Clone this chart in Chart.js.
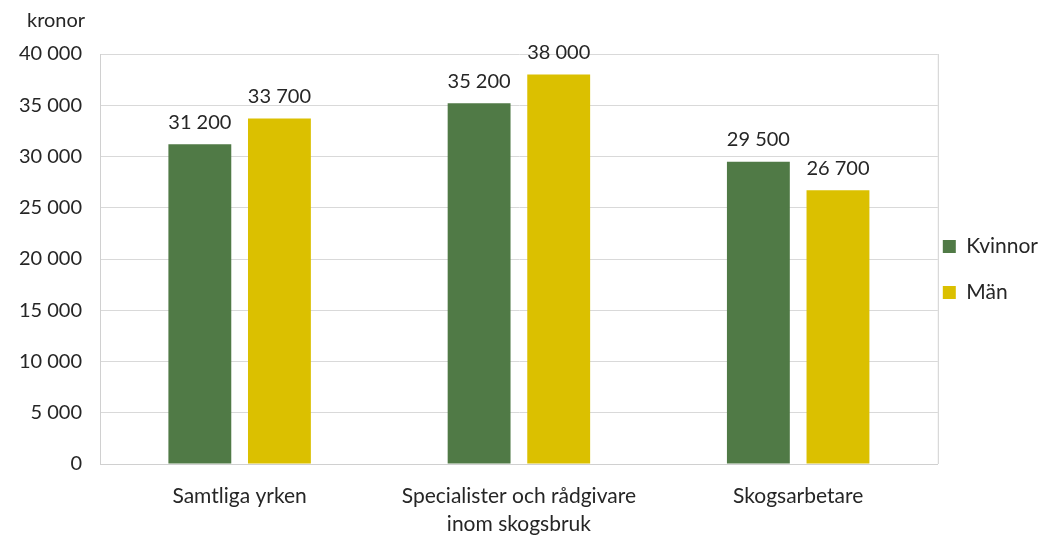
<!DOCTYPE html>
<html>
<head>
<meta charset="utf-8">
<script src="https://cdn.jsdelivr.net/npm/chart.js@4"></script>
<style>
  html, body { margin: 0; padding: 0; background: #fff; }
  #wrap { width: 1043px; height: 535px; }
</style>
</head>
<body>
<div id="wrap"><canvas id="lon"></canvas></div>
<script>
var categories = [["Samtliga yrken"], ["Specialister och rådgivare", "inom skogsbruk"], ["Skogsarbetare"]];
var kvinnor = [31200, 35200, 29500];
var man = [33700, 38000, 26700];
var unit = "kronor";

function fmt(v) {
  return String(v).replace(/\B(?=(\d{3})+(?!\d))/g, " ");
}

// value labels above each bar
var valueLabels = {
  id: "valueLabels",
  afterDatasetsDraw: function (chart) {
    var ctx = chart.ctx;
    ctx.save();
    ctx.font = "20px Lato";
    ctx.fillStyle = "#262626";
    ctx.textAlign = "center";
    ctx.textBaseline = "bottom";
    chart.data.datasets.forEach(function (ds, i) {
      chart.getDatasetMeta(i).data.forEach(function (bar, j) {
        ctx.fillText(fmt(ds.data[j]), bar.x, bar.y - 12);
      });
    });
    ctx.restore();
  }
};

// unit text above the y axis
var unitLabel = {
  id: "unitLabel",
  afterDraw: function (chart) {
    var ctx = chart.ctx;
    ctx.save();
    ctx.font = "20px Lato";
    ctx.fillStyle = "#262626";
    ctx.textAlign = "left";
    ctx.textBaseline = "middle";
    ctx.fillText(unit, 27, 21);
    ctx.restore();
  }
};

// pull the legend a bit closer to the plot area
var legendNudge = {
  id: "legendNudge",
  afterLayout: function (chart) {
    chart.legend.left -= 20;
    chart.legend.right -= 20;
  }
};

var ctx = document.getElementById("lon").getContext("2d");
var chart = new Chart(ctx, {
  type: "bar",
  data: {
    labels: categories,
    datasets: [
      { label: "Kvinnor", data: kvinnor, backgroundColor: "#507a46" },
      { label: "Män", data: man, backgroundColor: "#dbc000" }
    ]
  },
  options: {
    responsive: true,
    maintainAspectRatio: false,
    animation: false,
    layout: { padding: { top: 54, left: 12, right: -25, bottom: 0 } },
    datasets: {
      bar: { categoryPercentage: 0.57, barPercentage: 0.79 }
    },
    plugins: {
      legend: {
        position: "right",
        align: "start",
        title: { display: true, text: "", font: { size: 1, lineHeight: 1 }, padding: { top: 156, bottom: 0 } },
        labels: {
          boxWidth: 13,
          boxHeight: 13,
          padding: 25,
          color: "#262626",
          font: { family: "Lato", size: 21 }
        }
      },
      tooltip: { enabled: false }
    },
    scales: {
      x: {
        grid: { display: false },
        border: { color: "#d0d0d0" },
        ticks: {
          color: "#262626",
          font: { family: "Lato", size: 21, lineHeight: 1.35 },
          padding: 10,
          maxRotation: 0
        },
        afterFit: function (scale) { scale.height = 71; }
      },
      y: {
        min: 0,
        max: 40000,
        grid: { color: "#d9d9d9", drawTicks: false },
        border: { color: "#d0d0d0" },
        ticks: {
          stepSize: 5000,
          color: "#262626",
          padding: 18,
          font: { family: "Lato", size: 20 },
          callback: function (v) { return fmt(v); }
        },
        afterFit: function (scale) { scale.width = 88; }
      }
    }
  },
  plugins: [valueLabels, unitLabel, legendNudge, {
    id: "frame",
    afterDraw: function (chart) {
      var a = chart.chartArea, c = chart.ctx;
      c.save();
      c.strokeStyle = "#d0d0d0";
      c.lineWidth = 1;
      c.beginPath();
      c.moveTo(a.right + 0.5, a.top);
      c.lineTo(a.right + 0.5, a.bottom);
      c.stroke();
      c.restore();
    }
  }]
});
</script>
</body>
</html>
